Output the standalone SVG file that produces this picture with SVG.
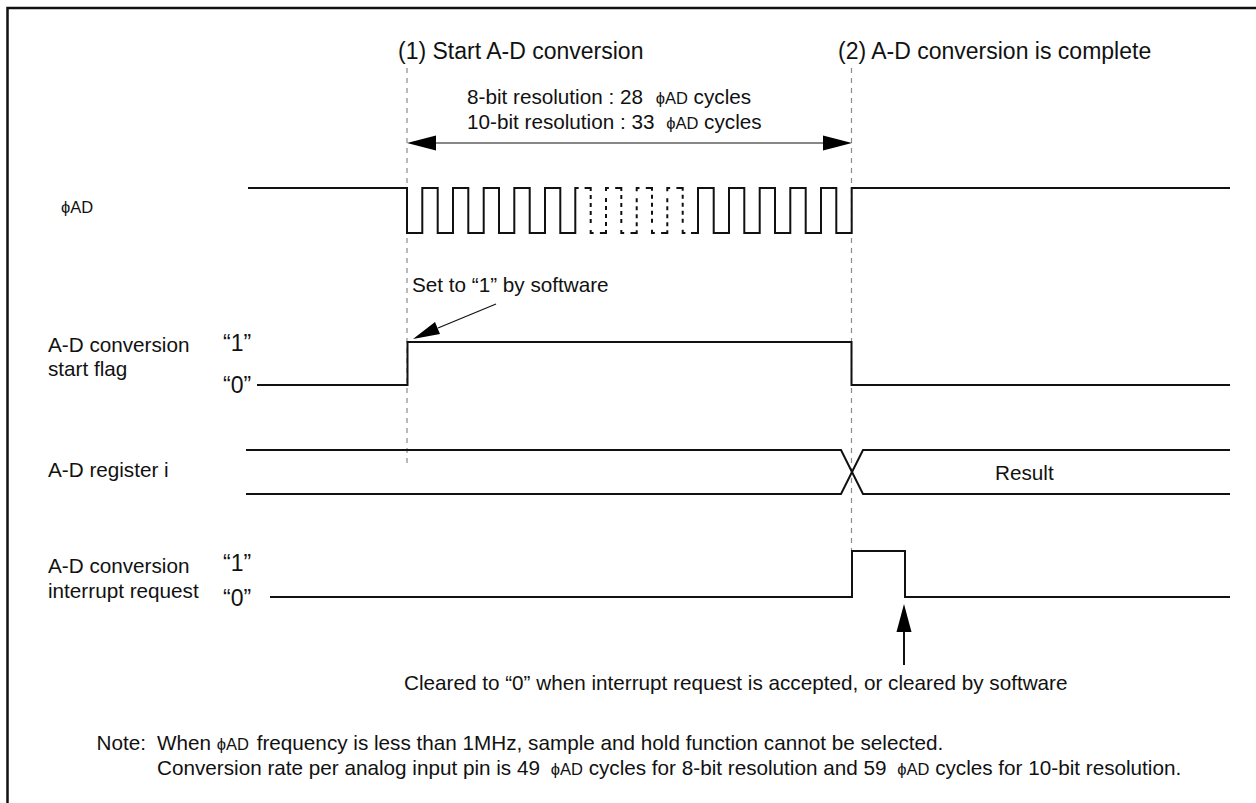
<svg xmlns="http://www.w3.org/2000/svg" width="1256" height="803" viewBox="0 0 1256 803">
<style>
text{font-family:"Liberation Sans",Arial,sans-serif;font-size:20.7px;fill:#111}
.s{font-size:16.5px}
.k{font-size:23px}
.w{fill:none;stroke:#111;stroke-width:2}
.d{stroke-dasharray:6 6.3 9 4 4 4 4 4 4 4 4 7;stroke-dashoffset:3}
.g{fill:none;stroke:#8c8c8c;stroke-width:1.2;stroke-dasharray:5 5}
.t{fill:none;stroke:#111;stroke-width:1.2}
.h{fill:#000}
</style>
<rect width="1256" height="803" fill="#fff"/>
<path id="frame" d="M7.500 803V8H1256" fill="none" stroke="#111" stroke-width="2.500"/>
<g id="guides">
<path class="g" d="M407 68V466"/>
<path class="g" d="M851.500 68V551"/>
</g>
<g id="connectors">
<path class="t" d="M430 143H830"/>
<path class="h" d="M407 143L436 135.500V150.500Z"/>
<path class="h" d="M852 143L823 135.500V150.500Z"/>
<path class="t" d="M438 328L496 304"/>
<path class="h" d="M413 339L435 322L440 334Z"/>
<path d="M904 632V665" fill="none" stroke="#111" stroke-width="2"/>
<path class="h" d="M904 604L911.500 632H896.500Z"/>
</g>
<g id="phi-ad-signal">
<path class="w" d="M248 188H407V233H422.300V188H437.700V233H453V188H468.300V233H483.700V188H499V233H514.300V188H529.700V233H545V188H560.300V233H575.300V188H578.500"/>
<path class="w d" d="M575.300 188H590.700V233H606V188H621.300V233H636.700V188H652V233H667.300V188H682.700V233H692"/>
<path class="w" d="M691 233H698V188H713.700V233H729V188H744.300V233H759.700V188H775V233H790.300V188H805.700V233H821V188H836.300V233H851.700V188H1230"/>
<text x="61" y="213"><tspan class="s">ϕAD</tspan></text>
</g>
<g id="start-flag">
<path class="w" d="M257 385H407.500V342H851.500V385H1230"/>
<text x="48" y="352">A-D conversion</text>
<text x="48" y="376">start flag</text>
<text class="k" x="223" y="351">“1”</text>
<text class="k" x="223" y="393">“0”</text>
<text x="412" y="292">Set to “1” by software</text>
</g>
<g id="register">
<path class="w" d="M246 450H841L863 494H1230"/>
<path class="w" d="M246 494H841L863 450H1230"/>
<text x="48" y="477">A-D register i</text>
<text x="995" y="480">Result</text>
</g>
<g id="interrupt">
<path class="w" d="M270 597H852V551H905V597H1230"/>
<text x="48" y="573">A-D conversion</text>
<text x="48" y="598">interrupt request</text>
<text class="k" x="223" y="571">“1”</text>
<text class="k" x="223" y="606">“0”</text>
<text x="404" y="690">Cleared to “0” when interrupt request is accepted, or cleared by software</text>
</g>
<g id="labels">
<text class="k" x="398" y="59">(1) Start A-D conversion</text>
<text class="k" x="838" y="59">(2) A-D conversion is complete</text>
<text x="467" y="104">8-bit resolution : 28 <tspan class="s" dx="7">ϕAD</tspan> cycles</text>
<text x="467" y="129">10-bit resolution : 33 <tspan class="s" dx="6">ϕAD</tspan> cycles</text>
<text x="96.500" y="750">Note:</text>
<text x="157" y="750">When <tspan class="s">ϕAD</tspan><tspan dx="2"> frequency is less than 1MHz, sample and hold function cannot be selected.</tspan></text>
<text x="157" y="775">Conversion rate per analog input pin is 49 <tspan class="s" dx="5">ϕAD</tspan> cycles for 8-bit resolution and 59 <tspan class="s" dx="5">ϕAD</tspan> cycles for 10-bit resolution.</text>
</g>
</svg>
